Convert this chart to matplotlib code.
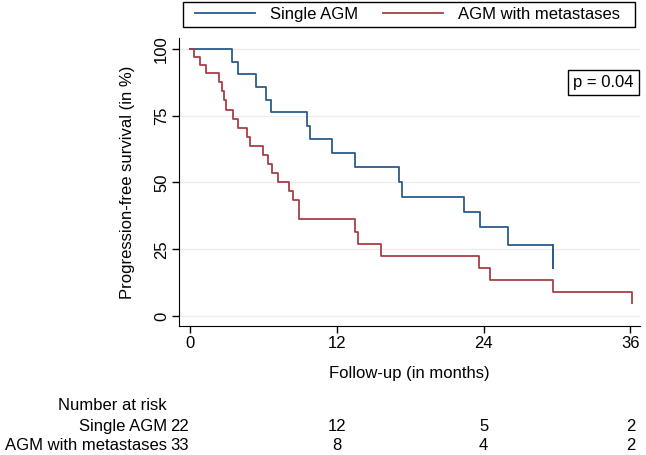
import matplotlib
matplotlib.use("Agg")
import matplotlib.pyplot as plt
from matplotlib.lines import Line2D
from matplotlib.patches import Rectangle

plt.rcParams['font.family'] = ['Liberation Sans', 'DejaVu Sans']

# Kaplan-Meier step data (months, % progression-free)
single_t = [0, 3.4, 3.95, 5.4, 6.2, 6.6, 9.55, 9.8, 11.6, 13.5, 17.1, 17.3, 22.4, 23.7, 26.0, 29.7]
single_s = [100, 95.2, 90.6, 85.7, 81.0, 76.2, 71.0, 66.2, 61.0, 55.9, 50.3, 44.7, 39.1, 33.5, 26.6, 17.9]
single_end = 29.7

meta_t = [0, 0.35, 0.8, 1.35, 2.4, 2.6, 2.75, 2.95, 3.5, 3.95, 4.65, 4.9, 6.0, 6.35, 6.7, 7.2,
          8.1, 8.4, 8.9, 13.5, 13.7, 15.6, 23.6, 24.5, 29.7, 36.1]
meta_s = [100, 97.0, 93.9, 90.9, 87.5, 84.1, 80.7, 77.3, 73.9, 70.5, 67.1, 63.8, 60.4, 57.0, 53.6, 50.2,
          46.9, 43.5, 36.2, 31.6, 27.1, 22.5, 18.0, 13.5, 9.0, 4.8]
meta_end = 36.1

groups = ['Single AGM', 'AGM with metastases']
risk_times = [0, 12, 24, 36]
risk_single = [22, 12, 5, 2]
risk_meta = [33, 8, 4, 2]
p_text = 'p = 0.04'

blue = '#2a5c8c'
red = '#a83e48'
fs = 12
W, H = 646, 455

fig = plt.figure(figsize=(6.46, 4.55), dpi=100)
ax = fig.add_axes([0.277, 0.2835, 0.714, 0.633])

for y in [0, 25, 50, 75, 100]:
    ax.axhline(y, color='#ececec', lw=1.0, zorder=0)

ax.step(single_t + [single_end], single_s + [single_s[-1]], where='post', color=blue, lw=1.3)
ax.plot([single_end, single_end], [single_s[-2], single_s[-1]], color=blue, lw=1.3)
ax.step(meta_t + [meta_end], meta_s + [meta_s[-1]], where='post', color=red, lw=1.3)

ax.set_xlim(-0.9, 36.8)
ax.set_ylim(-3.75, 104.1)
ax.set_xticks(risk_times)
ax.set_yticks([0, 25, 50, 75, 100])
ax.spines['top'].set_visible(False)
ax.spines['right'].set_visible(False)
ax.tick_params(direction='out', length=5, width=1, labelsize=fs, pad=2)
for lbl in ax.get_yticklabels():
    lbl.set_rotation(90)
    lbl.set_va('center')
ax.set_xlabel('Follow-up (in months)', fontsize=fs, labelpad=11)
ax.set_ylabel('Progression-free survival (in %)', fontsize=fs, labelpad=14)

ax.text(0.920, 0.847, p_text, transform=ax.transAxes, fontsize=fs, ha='center', va='center',
        bbox=dict(boxstyle='square,pad=0.3', fc='white', ec='black', lw=1))

# legend at the top, framed by a plain box
fig.patches.append(Rectangle((183 / W, 1 - 27 / H), 452 / W, 25 / H, transform=fig.transFigure,
                             fill=False, ec='black', lw=1.0))
handles = [Line2D([], [], color=blue, lw=1.3), Line2D([], [], color=red, lw=1.3)]
fig.legend(handles, groups, loc='center left', bbox_to_anchor=(195 / W, 1 - 14.5 / H), ncol=2,
           fontsize=fs, frameon=False, borderpad=0, borderaxespad=0,
           handlelength=3.6, columnspacing=1.5, handletextpad=0.9)

# number at risk table
fig.text(167 / W, 1 - 406 / H, 'Number at risk', fontsize=fs, ha='right', va='center')
rows = [(groups[0], risk_single, 426.5), (groups[1], risk_meta, 445)]
for name, vals, ypx in rows:
    fig.text(167 / W, 1 - ypx / H, name, fontsize=fs, ha='right', va='center')
    for t, v in zip(risk_times, vals):
        xd = ax.transData.transform((t, 0))[0]
        xf = fig.transFigure.inverted().transform((xd, 0))[0]
        if t == 0:
            xf -= 10 / W
        fig.text(xf, 1 - ypx / H, str(v), fontsize=fs, ha='center', va='center')

fig.savefig('out.png', dpi=100)
